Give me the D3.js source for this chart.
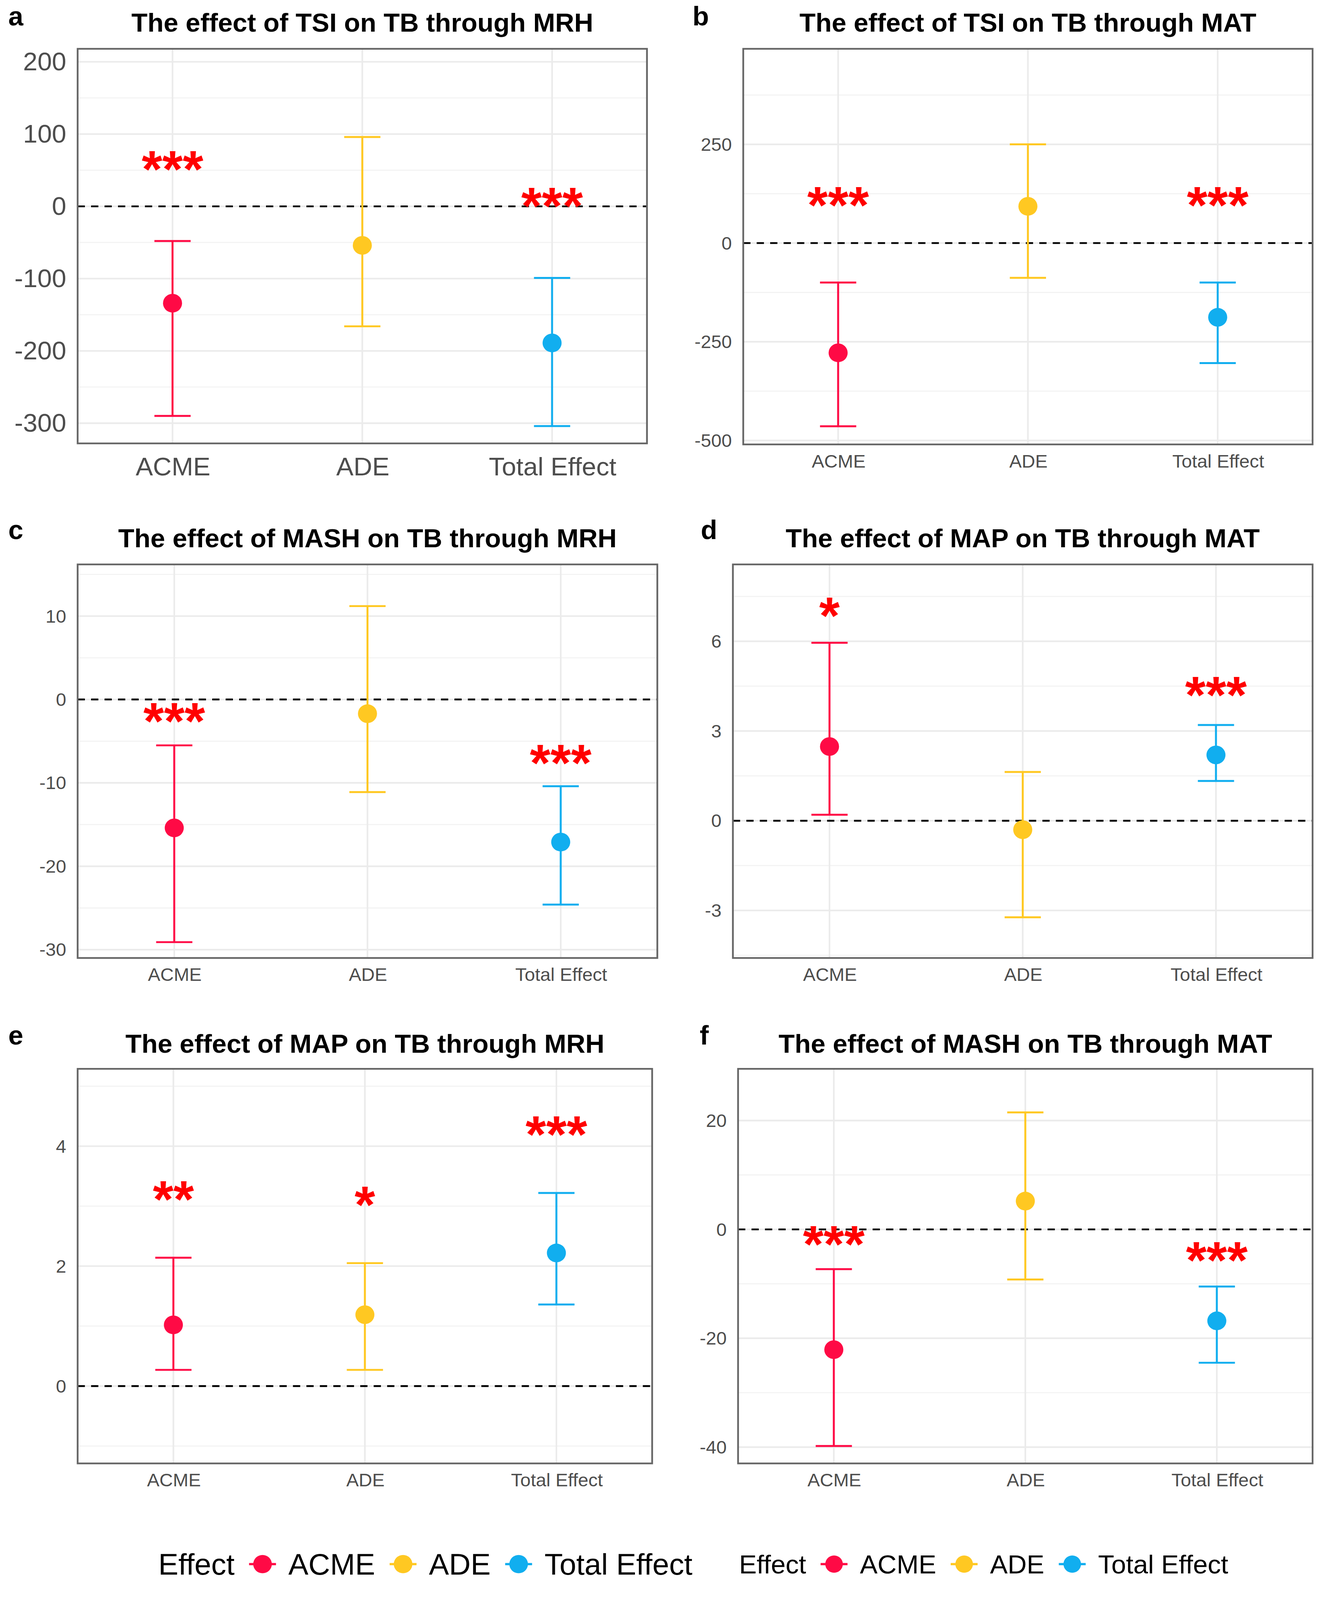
<!DOCTYPE html>
<html>
<head>
<meta charset="utf-8">
<script src="https://cdn.jsdelivr.net/npm/d3@7"></script>
<style>
  html, body { margin: 0; padding: 0; background: #fff; overflow: hidden; }
  svg { display: block; width: 100vw; height: 100vh; }
</style>
</head>
<body>
<svg id="fig"></svg>
<script>
const categories = ["ACME", "ADE", "Total Effect"];
const colors = ["#FF0A45", "#FFC822", "#11AEEF"];
const letters = ["a", "b", "c", "d", "e", "f"];
const titles = [
  "The effect of TSI on TB through MRH",
  "The effect of TSI on TB through MAT",
  "The effect of MASH on TB through MRH",
  "The effect of MAP on TB through MAT",
  "The effect of MAP on TB through MRH",
  "The effect of MASH on TB through MAT"
];

// point estimate, lower and upper CI
const estA = [-134, -54, -189], lowA = [-290, -166, -304], upA = [-48, 96, -99];
const estB = [-278, 93, -188], lowB = [-464, -88, -304], upB = [-100, 250, -100];
const estC = [-15.4, -1.7, -17.1], lowC = [-29.1, -11.1, -24.6], upC = [-5.5, 11.2, -10.4];
const estD = [2.48, -0.3, 2.2], lowD = [0.2, -3.23, 1.33], upD = [5.95, 1.63, 3.2];
const estE = [1.02, 1.19, 2.22], lowE = [0.27, 0.27, 1.36], upE = [2.14, 2.05, 3.22];
const estF = [-22.1, 5.2, -16.8], lowF = [-39.8, -9.2, -24.5], upF = [-7.3, 21.5, -10.5];

// significance stars and the height they sit at
const starsA = ["***", "", "***"], starYA = [67.6, null, 16.9];
const starsB = ["***", "", "***"], starYB = [126, null, 126];
const starsC = ["***", "", "***"], starYC = [-1.2, null, -6.2];
const starsD = ["*", "", "***"], starYD = [7.24, null, 4.59];
const starsE = ["**", "*", "***"], starYE = [3.31, 3.22, 4.39];
const starsF = ["***", "", "***"], starYF = [-0.56, null, -3.55];

// y ranges and axis breaks
const domA = [-328, 218], ticksA = [-300, -200, -100, 0, 100, 200], minorA = [-250, -150, -50, 50, 150];
const domB = [-510, 492], ticksB = [-500, -250, 0, 250], minorB = [-375, -125, 125, 375];
const domC = [-31, 16.2], ticksC = [-30, -20, -10, 0, 10], minorC = [-25, -15, -5, 5, 15];
const domD = [-4.59, 8.57], ticksD = [-3, 0, 3, 6], minorD = [-4.5, -1.5, 1.5, 4.5, 7.5];
const domE = [-1.29, 5.29], ticksE = [0, 2, 4], minorE = [-1, 1, 3, 5];
const domF = [-43, 29.5], ticksF = [-40, -20, 0, 20], minorF = [-30, -10, 10];

const W = 1280, H = 1573.3;
const svg = d3.select("#fig")
  .attr("viewBox", `0 0 ${W} ${H}`)
  .attr("preserveAspectRatio", "none")
  .style("font-family", "'Liberation Sans', Arial, sans-serif");

const panels = [
  { est: estA, low: lowA, up: upA, stars: starsA, starY: starYA, dom: domA, ticks: ticksA, minor: minorA,
    box: [75, 625, 48, 436], font: 25, tagXY: [8, 25], titleY: 31 },
  { est: estB, low: lowB, up: upB, stars: starsB, starY: starYB, dom: domB, ticks: ticksB, minor: minorB,
    box: [718, 1268, 48, 437], font: 18, tagXY: [669, 25], titleY: 31 },
  { est: estC, low: lowC, up: upC, stars: starsC, starY: starYC, dom: domC, ticks: ticksC, minor: minorC,
    box: [75, 635, 555, 942], font: 18, tagXY: [8, 530], titleY: 538 },
  { est: estD, low: lowD, up: upD, stars: starsD, starY: starYD, dom: domD, ticks: ticksD, minor: minorD,
    box: [708, 1268, 555, 942], font: 18, tagXY: [677, 530], titleY: 538 },
  { est: estE, low: lowE, up: upE, stars: starsE, starY: starYE, dom: domE, ticks: ticksE, minor: minorE,
    box: [75, 630, 1051, 1439], font: 18, tagXY: [8, 1027], titleY: 1035 },
  { est: estF, low: lowF, up: upF, stars: starsF, starY: starYF, dom: domF, ticks: ticksF, minor: minorF,
    box: [713, 1268, 1051, 1439], font: 18, tagXY: [676, 1027], titleY: 1035 }
];

const starSize = 51;
const fmt = d => String(d); // plain hyphen minus, as in the figure

panels.forEach((p, i) => {
  const [x0, x1, y0, y1] = p.box;
  const g = svg.append("g");

  const x = d3.scalePoint().domain(categories).range([x0, x1]).padding(0.5);
  const y = d3.scaleLinear().domain(p.dom).range([y1, y0]);

  // grid
  g.selectAll("line.minor").data(p.minor.filter(v => v > p.dom[0] && v < p.dom[1])).join("line")
    .attr("x1", x0).attr("x2", x1).attr("y1", d => y(d)).attr("y2", d => y(d))
    .attr("stroke", "#F2F2F2").attr("stroke-width", 1);
  g.selectAll("line.major").data(p.ticks).join("line")
    .attr("x1", x0).attr("x2", x1).attr("y1", d => y(d)).attr("y2", d => y(d))
    .attr("stroke", "#EBEBEB").attr("stroke-width", 1.6);
  g.selectAll("line.vgrid").data(categories).join("line")
    .attr("x1", d => x(d)).attr("x2", d => x(d)).attr("y1", y0).attr("y2", y1)
    .attr("stroke", "#EBEBEB").attr("stroke-width", 1.6);

  // zero reference
  g.append("line")
    .attr("x1", x0).attr("x2", x1).attr("y1", y(0)).attr("y2", y(0))
    .attr("stroke", "#000").attr("stroke-width", 1.8).attr("stroke-dasharray", "7,6");

  // error bars
  const rows = categories.map((c, j) => ({ c, j, est: p.est[j], low: p.low[j], up: p.up[j] }));
  const cap = 17.5;
  const eb = g.selectAll("g.eb").data(rows).join("g").attr("stroke", d => colors[d.j]).attr("stroke-width", 1.9);
  eb.append("line").attr("x1", d => x(d.c)).attr("x2", d => x(d.c)).attr("y1", d => y(d.low)).attr("y2", d => y(d.up));
  eb.append("line").attr("x1", d => x(d.c) - cap).attr("x2", d => x(d.c) + cap).attr("y1", d => y(d.up)).attr("y2", d => y(d.up));
  eb.append("line").attr("x1", d => x(d.c) - cap).attr("x2", d => x(d.c) + cap).attr("y1", d => y(d.low)).attr("y2", d => y(d.low));

  g.selectAll("circle.pt").data(rows).join("circle")
    .attr("cx", d => x(d.c)).attr("cy", d => y(d.est)).attr("r", 9.2)
    .attr("fill", d => colors[d.j]);

  // stars
  g.selectAll("text.star").data(rows.filter(d => p.stars[d.j])).join("text")
    .attr("x", d => x(d.c)).attr("y", d => y(p.starY[d.j]) + starSize * 0.57)
    .attr("text-anchor", "middle").attr("font-size", starSize).attr("font-weight", "bold")
    .attr("fill", "#FF0000")
    .text(d => p.stars[d.j]);

  // border
  g.append("rect").attr("x", x0).attr("y", y0).attr("width", x1 - x0).attr("height", y1 - y0)
    .attr("fill", "none").attr("stroke", "#666").attr("stroke-width", 1.7);

  // axes
  const yAxis = g.append("g").attr("transform", `translate(${x0},0)`)
    .call(d3.axisLeft(y).tickValues(p.ticks).tickSize(0).tickPadding(11).tickFormat(fmt));
  yAxis.select(".domain").remove();
  yAxis.selectAll("text").attr("font-size", p.font).attr("fill", "#4D4D4D").attr("font-family", null);

  const xAxis = g.append("g").attr("transform", `translate(0,${y1})`)
    .call(d3.axisBottom(x).tickSize(0).tickPadding(p.font * 0.55));
  xAxis.select(".domain").remove();
  xAxis.selectAll("text").attr("font-size", p.font).attr("fill", "#4D4D4D").attr("font-family", null);

  // title and tag
  svg.append("text").attr("x", (x0 + x1) / 2).attr("y", p.titleY).attr("text-anchor", "middle")
    .attr("font-size", 25.5).attr("font-weight", "bold").text(titles[i]);
  svg.append("text").attr("x", p.tagXY[0]).attr("y", p.tagXY[1])
    .attr("font-size", 26).attr("font-weight", "bold").text(letters[i]);
});

// legends
function legend(startX, cy, fs, r) {
  const g = svg.append("g");
  let cx = startX;
  const t = g.append("text").attr("x", cx).attr("y", cy + fs * 0.36).attr("font-size", fs).text("Effect");
  cx += t.node().getComputedTextLength() + 27;
  categories.forEach((c, j) => {
    g.append("line").attr("x1", cx - 13).attr("x2", cx + 13).attr("y1", cy).attr("y2", cy)
      .attr("stroke", colors[j]).attr("stroke-width", 2.2);
    g.append("circle").attr("cx", cx).attr("cy", cy).attr("r", r).attr("fill", colors[j]);
    cx += 25;
    const lt = g.append("text").attr("x", cx).attr("y", cy + fs * 0.36).attr("font-size", fs).text(c);
    cx += lt.node().getComputedTextLength() + 27;
  });
}
legend(153, 1538, 29, 9);
legend(714, 1538, 25.5, 8.5);
</script>
</body>
</html>
